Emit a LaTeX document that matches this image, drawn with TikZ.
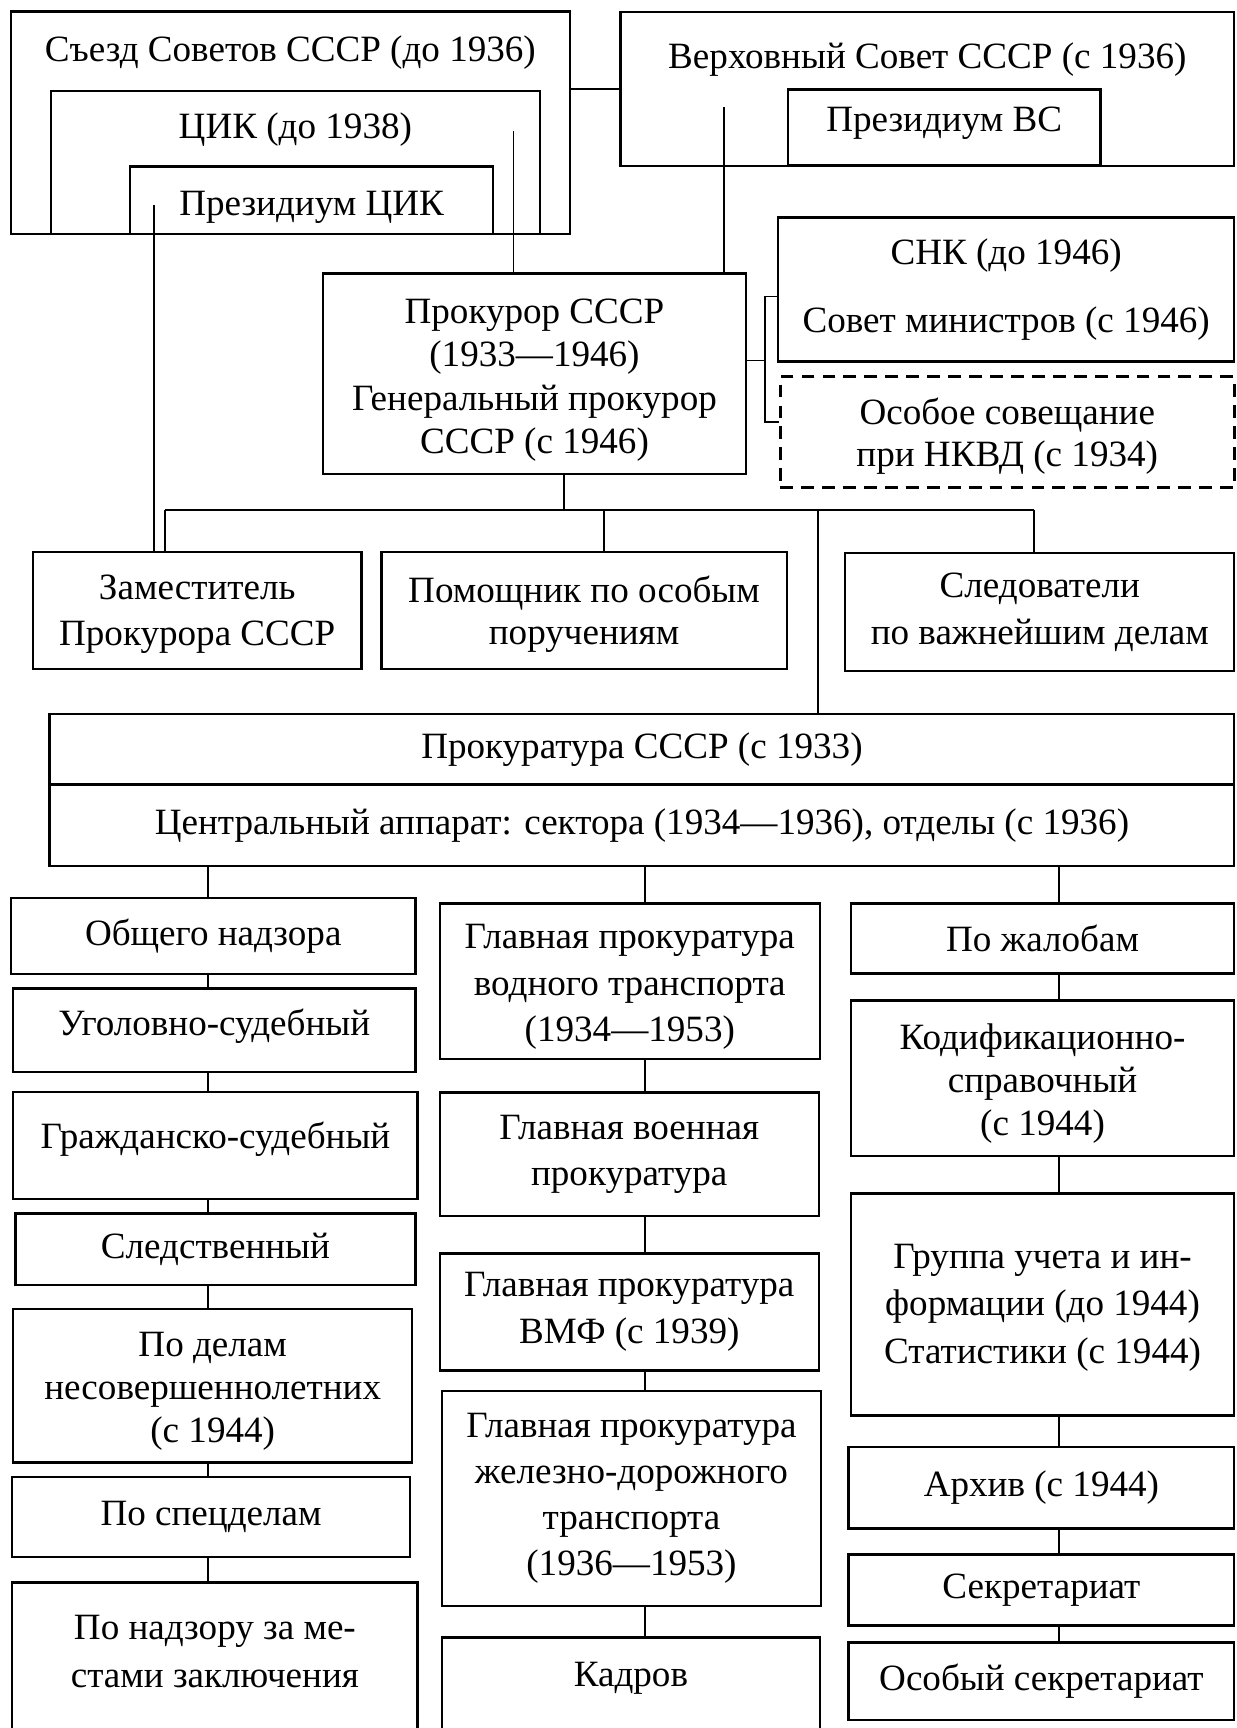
\documentclass[tikz,border=0pt]{standalone}
\usepackage{fontspec}
\setmainfont{Liberation Serif}
\newcommand{\lowr}[1]{\rule{0pt}{#1}}
\newcommand{\highr}[1]{\rule[-#1]{0pt}{0pt}}

\begin{document}
\begin{tikzpicture}[
x=0.3pt, y=-0.3pt,
font=\fontsize{10.1}{12.4}\selectfont,
box/.style={draw, line width=0.65pt, align=center, inner sep=0pt},
sz/.style 2 args={minimum width=#1*0.3pt, minimum height=#2*0.3pt},
wd/.style={minimum width=#1*0.3pt},
topbox/.style 2 args={box, anchor=north, text height=#1, text depth=#2},
dashbox/.style={box, line width=0.85pt, dash pattern=on 3.5pt off 2.2pt},
lh/.style={font=\fontsize{10.1}{#1}\selectfont},
link/.style={line width=0.45pt}
]
\useasboundingbox (0,0) rectangle (1122,1568);
\clip (0,0) rectangle (1122,1568);

% top: congress, CEC, supreme soviet
\node[topbox={13.5pt}{46.95pt}, wd=507] (sezd) at (263.5,9.5) {Съезд Советов СССР (до 1936)};
\node[topbox={13.05pt}{25.8pt}, wd=444] (cik) at (268,81.5) {ЦИК (до 1938)};
\node[topbox={13.2pt}{5.1pt}, wd=329.5] (pcik) at (282.8,150) {Президиум ЦИК};
\node[topbox={15.3pt}{26.55pt}, wd=557] (vs) at (841.5,10) {Верховный Совет СССР (с 1936)};
\node[topbox={11.55pt}{9.15pt}, wd=283.5] (pvs) at (856.8,80) {Президиум ВС};

\node[box, sz={384}{182}, lh=11.8pt] (prok) at (485,339) {\lowr{10.3pt}Прокурор СССР\\(1933—1946)\\Генеральный прокурор\\СССР (с 1946)};
\node[box, sz={414}{130.5}] (snk) at (913,262.7) {СНК (до 1946)\\[6.3pt]Совет министров (с 1946)};
\node[dashbox, sz={412}{100}, lh=11.4pt] (osob) at (914,392) {\lowr{9.6pt}Особое совещание\\при НКВД (с 1934)};

% second row
\node[box, sz={298}{106}, lh=12.6pt] (zam) at (179,554) {\lowr{8.5pt}Заместитель\\Прокурора СССР};
\node[box, sz={368}{106}, lh=11.4pt] (pom) at (530,554) {\lowr{9pt}Помощник по особым\\поручениям};
\node[box, sz={353}{107}, lh=12.6pt] (sled) at (943.5,555.5) {Следователи\\по важнейшим делам};

\node[box, sz={1075}{64}] (prk) at (582.5,680) {Прокуратура СССР (с 1933)};
\node[box, sz={1075}{74}] (apparat) at (582.5,749) {Центральный аппарат: сектора (1934—1936), отделы (с 1936)};

% left column
\node[box, sz={367}{69}] (a1) at (193.5,849.5) {Общего надзора};
\node[box, sz={365}{76}] (a2) at (194.5,935) {Уголовно-судебный\highr{4.6pt}};
\node[box, sz={367}{97}] (a3) at (195.5,1039.5) {Гражданско-судебный\highr{5.8pt}};
\node[box, sz={363}{65}] (a4) at (195.5,1133.5) {Следственный};
\node[box, sz={362}{139}, lh=11.7pt] (a5) at (193,1257.5) {\lowr{9.7pt}По делам\\несовершеннолетних\\(с 1944)};
\node[box, sz={361}{73}] (a6) at (191.5,1376.5) {По спецделам};
\node[box, sz={368}{136}, lh=12.9pt] (a7) at (195,1504) {По надзору за ме-\\стами заключения\highr{3.4pt}};

% middle column
\node[box, sz={345}{141}, lh=12.6pt] (b1) at (571.5,890.5) {\lowr{9.7pt}Главная прокуратура\\водного транспорта\\(1934—1953)};
\node[box, sz={344}{112}] (b2) at (571,1047.5) {Главная военная\\прокуратура};
\node[box, sz={344}{106}, lh=12.9pt] (b3) at (571,1190.5) {Главная прокуратура\\ВМФ (с 1939)};
\node[box, sz={344}{195}, lh=12.5pt] (b4) at (573,1359.5) {Главная прокуратура\\железно-дорожного\\транспорта\\(1936—1953)};
\node[box, sz={343}{86}] (b5) at (572.5,1529) {Кадров\highr{5.8pt}};

% right column
\node[box, sz={348}{63.5}] (c1) at (946,851.75) {По жалобам};
\node[box, sz={348}{141}, lh=11.7pt] (c2) at (946,978.5) {\lowr{9.6pt}Кодификационно-\\справочный\\(с 1944)};
\node[box, sz={348}{201.5}, lh=12.9pt] (c3) at (946,1183.75) {\lowr{8.2pt}Группа учета и ин-\\формации (до 1944)\\Статистики (с 1944)};
\node[box, sz={350}{74}] (c4) at (945,1350) {Архив (с 1944)};
\node[box, sz={350}{64.5}] (c5) at (945,1442.75) {Секретариат};
\node[box, sz={350}{70}] (c6) at (945,1525.5) {Особый секретариат};

% connectors
\coordinate (cikpt) at (466,119);
\coordinate (pcikpt) at (140,186);
\coordinate (vspt) at (657,97);
\coordinate (br0) at (694,327);
\coordinate (br1) at (694,269);
\coordinate (br2) at (694,383);
\coordinate (busa) at (150,463);
\coordinate (busp) at (512,463);
\coordinate (busb) at (548,463);
\coordinate (busc) at (742,463);
\coordinate (busd) at (938,463);
\coordinate (ca) at (189,800);
\coordinate (cb) at (585,800);
\coordinate (cc) at (961,800);

\draw[link] (vs.west) -- (vs.west -| sezd.east);
\draw[link] (cikpt) -- (cikpt |- prok.north);
\draw[link] (vspt) -- (vspt |- prok.north);
\draw[link] (pcikpt) -- (pcikpt |- zam.north);
\draw[link] (prok.east |- br0) -- (br0);
\draw[link] (snk.west |- br1) -- (br1) -- (br2) -- (osob.west |- br2);

\draw[link] (prok.south -| busp) -- (busp);
\draw[link] (busa) -- (busd);
\draw[link] (busa) -- (busa |- zam.north);
\draw[link] (busb) -- (busb |- pom.north);
\draw[link] (busd) -- (busd |- sled.north);
\draw[link] (busc) -- (busc |- prk.north);

\draw[link] (apparat.south -| ca) -- (ca |- a1.north);
\draw[link] (apparat.south -| cb) -- (cb |- b1.north);
\draw[link] (apparat.south -| cc) -- (cc |- c1.north);
\foreach \p/\q in {a1/a2,a2/a3,a3/a4,a4/a5,a5/a6,a6/a7}
  \draw[link] (\p.south -| ca) -- (\q.north -| ca);
\foreach \p/\q in {b1/b2,b2/b3,b3/b4,b4/b5}
  \draw[link] (\p.south -| cb) -- (\q.north -| cb);
\foreach \p/\q in {c1/c2,c2/c3,c3/c4,c4/c5,c5/c6}
  \draw[link] (\p.south -| cc) -- (\q.north -| cc);
\end{tikzpicture}
\end{document}
